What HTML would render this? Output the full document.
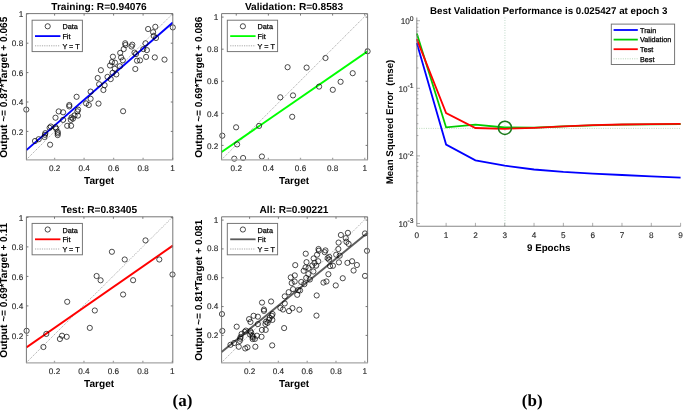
<!DOCTYPE html>
<html lang="en">
<head>
<meta charset="utf-8">
<title>Regression and validation performance</title>
<style>
html,body{margin:0;padding:0;background:#fff;}
body{width:685px;height:411px;overflow:hidden;}
svg{display:block;}
text{font-family:'Liberation Sans', sans-serif;text-rendering:geometricPrecision;}
.tk{font-size:8.2px;fill:#262626;stroke:#262626;stroke-width:0.12px;}
.lg{font-size:7.25px;fill:#000;stroke:#000;stroke-width:0.25px;}
.tl{font-size:10.15px;font-weight:bold;fill:#000;}
.yl{font-size:10.12px;}
.tr{font-size:9.75px;font-weight:bold;fill:#000;}
.cap{font-family:'Liberation Serif', serif;font-size:17px;font-weight:bold;fill:#000;}
</style>
</head>
<body>
<svg width="685" height="411" viewBox="0 0 685 411">
<rect width="685" height="411" fill="#fff"/>
<clipPath id="clip1"><rect x="26" y="13.6" width="147.2" height="146"/></clipPath>
<line x1="26.4" y1="159.6" x2="172.8" y2="13.6" stroke="#555" stroke-width="0.5" stroke-dasharray="1.2 1.1"/>
<line x1="26.4" y1="150.12" x2="172.8" y2="22.58" stroke="#0000ff" stroke-width="1.95" clip-path="url(#clip1)"/>
<g fill="none" stroke="#000" stroke-width="0.7"><circle cx="172.8" cy="27.4" r="2.6"/><circle cx="155.3" cy="26.8" r="2.6"/><circle cx="148.1" cy="29" r="2.6"/><circle cx="153.1" cy="32.2" r="2.6"/><circle cx="153.8" cy="36" r="2.6"/><circle cx="156" cy="38" r="2.6"/><circle cx="145.5" cy="43.3" r="2.6"/><circle cx="125.2" cy="43.3" r="2.6"/><circle cx="125.5" cy="45" r="2.6"/><circle cx="132.3" cy="44.7" r="2.6"/><circle cx="131.5" cy="46.5" r="2.6"/><circle cx="123.7" cy="49.1" r="2.6"/><circle cx="120.2" cy="52.9" r="2.6"/><circle cx="143.3" cy="49.1" r="2.6"/><circle cx="146.9" cy="50.1" r="2.6"/><circle cx="134.5" cy="52.6" r="2.6"/><circle cx="136" cy="54.1" r="2.6"/><circle cx="112.9" cy="56.7" r="2.6"/><circle cx="146.1" cy="56.9" r="2.6"/><circle cx="154.8" cy="57.4" r="2.6"/><circle cx="164.5" cy="59.6" r="2.6"/><circle cx="121.1" cy="57.4" r="2.6"/><circle cx="122.8" cy="60.3" r="2.6"/><circle cx="137" cy="60.7" r="2.6"/><circle cx="140" cy="60.4" r="2.6"/><circle cx="111.9" cy="62.1" r="2.6"/><circle cx="115" cy="62.7" r="2.6"/><circle cx="110" cy="65.5" r="2.6"/><circle cx="119.9" cy="66.2" r="2.6"/><circle cx="135.3" cy="69" r="2.6"/><circle cx="114.8" cy="68.8" r="2.6"/><circle cx="100.9" cy="70.2" r="2.6"/><circle cx="112.6" cy="72.8" r="2.6"/><circle cx="116.3" cy="74.4" r="2.6"/><circle cx="107.5" cy="76.9" r="2.6"/><circle cx="97.7" cy="78" r="2.6"/><circle cx="110.7" cy="79.1" r="2.6"/><circle cx="99.1" cy="84.2" r="2.6"/><circle cx="104.6" cy="85.2" r="2.6"/><circle cx="103.4" cy="90" r="2.6"/><circle cx="90.6" cy="91.6" r="2.6"/><circle cx="90.6" cy="98.8" r="2.6"/><circle cx="98.5" cy="103.6" r="2.6"/><circle cx="86.1" cy="103.4" r="2.6"/><circle cx="88.8" cy="105" r="2.6"/><circle cx="123.1" cy="111.2" r="2.6"/><circle cx="26.3" cy="109.6" r="2.6"/><circle cx="76.6" cy="96.8" r="2.6"/><circle cx="69.3" cy="105" r="2.6"/><circle cx="69.3" cy="106.4" r="2.6"/><circle cx="58.7" cy="111.4" r="2.6"/><circle cx="63.1" cy="112.3" r="2.6"/><circle cx="78.1" cy="109.6" r="2.6"/><circle cx="77.4" cy="111.4" r="2.6"/><circle cx="77.9" cy="115.6" r="2.6"/><circle cx="74.5" cy="115.5" r="2.6"/><circle cx="71.5" cy="117.5" r="2.6"/><circle cx="73" cy="118.6" r="2.6"/><circle cx="55.5" cy="117.7" r="2.6"/><circle cx="63.1" cy="119.9" r="2.6"/><circle cx="70.8" cy="119.9" r="2.6"/><circle cx="67.2" cy="125.8" r="2.6"/><circle cx="71.1" cy="125.8" r="2.6"/><circle cx="50.8" cy="126.5" r="2.6"/><circle cx="49.6" cy="127.8" r="2.6"/><circle cx="55.5" cy="127.2" r="2.6"/><circle cx="56.2" cy="128.7" r="2.6"/><circle cx="57.7" cy="131.9" r="2.6"/><circle cx="57.7" cy="133.4" r="2.6"/><circle cx="57.7" cy="135.1" r="2.6"/><circle cx="45.3" cy="133.1" r="2.6"/><circle cx="45" cy="134.8" r="2.6"/><circle cx="44.5" cy="137" r="2.6"/><circle cx="38.7" cy="139.2" r="2.6"/><circle cx="35" cy="141" r="2.6"/><circle cx="50.1" cy="144.7" r="2.6"/></g>
<path d="M25.95 159.9H173.25M54.6 159.9v-2.1M84.1 159.9v-2.1M113.6 159.9v-2.1M143.1 159.9v-2.1M172.6 159.9v-2.1" fill="none" stroke="#a6a6a6" stroke-width="1.3"/>
<path d="M26.4 159.6V13.6H172.8V159.6M54.6 13.6v2M26.4 131.4h2M172.8 131.4h-2M84.1 13.6v2M26.4 102h2M172.8 102h-2M113.6 13.6v2M26.4 72.6h2M172.8 72.6h-2M143.1 13.6v2M26.4 43.2h2M172.8 43.2h-2M172.6 13.6v2M26.4 13.8h2M172.8 13.8h-2" fill="none" stroke="#707070" stroke-width="0.95"/>
<text x="54.6" y="171.1" class="tk" text-anchor="middle">0.2</text>
<text x="23.2" y="134.5" class="tk" text-anchor="end">0.2</text>
<text x="84.1" y="171.1" class="tk" text-anchor="middle">0.4</text>
<text x="23.2" y="105.1" class="tk" text-anchor="end">0.4</text>
<text x="113.6" y="171.1" class="tk" text-anchor="middle">0.6</text>
<text x="23.2" y="75.7" class="tk" text-anchor="end">0.6</text>
<text x="143.1" y="171.1" class="tk" text-anchor="middle">0.8</text>
<text x="23.2" y="46.3" class="tk" text-anchor="end">0.8</text>
<text x="172.6" y="171.1" class="tk" text-anchor="middle">1</text>
<text x="23.2" y="16.9" class="tk" text-anchor="end">1</text>
<text x="99" y="9.6" class="tl" text-anchor="middle">Training: R=0.94076</text>
<text x="99.1" y="184.2" class="tl" text-anchor="middle">Target</text>
<text transform="translate(6.8 87.2) rotate(-90)" class="tl yl" text-anchor="middle">Output ~= 0.87*Target + 0.065</text>
<rect x="32.1" y="20.2" width="50.3" height="31.4" fill="#fff" stroke="#707070" stroke-width="0.95"/>
<circle cx="47.7" cy="26.3" r="2.6" fill="none" stroke="#000" stroke-width="0.7"/>
<line x1="35" y1="36.1" x2="60.4" y2="36.1" stroke="#0000ff" stroke-width="1.8"/>
<line x1="35" y1="45.8" x2="60.4" y2="45.8" stroke="#555" stroke-width="0.5" stroke-dasharray="1.2 1.1"/>
<text x="62.4" y="29.3" class="lg">Data</text>
<text x="62.4" y="38.9" class="lg">Fit</text>
<text x="62.4" y="48.5" class="lg">Y = T</text>
<clipPath id="clip2"><rect x="221.2" y="13.6" width="146.8" height="146"/></clipPath>
<line x1="221.6" y1="159.6" x2="367.6" y2="13.6" stroke="#555" stroke-width="0.5" stroke-dasharray="1.2 1.1"/>
<line x1="221.6" y1="151.95" x2="367.6" y2="51.37" stroke="#00ff00" stroke-width="1.95" clip-path="url(#clip2)"/>
<g fill="none" stroke="#000" stroke-width="0.7"><circle cx="287.6" cy="67.2" r="2.6"/><circle cx="280.3" cy="97.3" r="2.6"/><circle cx="293" cy="95.4" r="2.6"/><circle cx="367.6" cy="51.3" r="2.6"/><circle cx="325.5" cy="58" r="2.6"/><circle cx="306.6" cy="67.6" r="2.6"/><circle cx="352.7" cy="73.2" r="2.6"/><circle cx="340.6" cy="81.8" r="2.6"/><circle cx="319.1" cy="86.6" r="2.6"/><circle cx="332.8" cy="89.8" r="2.6"/><circle cx="292.2" cy="116.8" r="2.6"/><circle cx="236.1" cy="127.3" r="2.6"/><circle cx="259.1" cy="125.9" r="2.6"/><circle cx="222.3" cy="135.7" r="2.6"/><circle cx="237.1" cy="144.4" r="2.6"/><circle cx="234.3" cy="158.7" r="2.6"/><circle cx="243.1" cy="158" r="2.6"/><circle cx="261.9" cy="156.5" r="2.6"/></g>
<path d="M221.15 159.9H368.05M236.25 159.9v-2.1M268.38 159.9v-2.1M300.5 159.9v-2.1M332.62 159.9v-2.1M364.75 159.9v-2.1" fill="none" stroke="#a6a6a6" stroke-width="1.3"/>
<path d="M221.6 159.6V13.6H367.6V159.6M236.25 13.6v2M221.6 145.4h2M367.6 145.4h-2M268.38 13.6v2M221.6 113.33h2M367.6 113.33h-2M300.5 13.6v2M221.6 81.25h2M367.6 81.25h-2M332.62 13.6v2M221.6 49.18h2M367.6 49.18h-2M364.75 13.6v2M221.6 17.1h2M367.6 17.1h-2" fill="none" stroke="#707070" stroke-width="0.95"/>
<text x="236.25" y="171.1" class="tk" text-anchor="middle">0.2</text>
<text x="218.4" y="148.6" class="tk" text-anchor="end">0.2</text>
<text x="268.38" y="171.1" class="tk" text-anchor="middle">0.4</text>
<text x="218.4" y="116.53" class="tk" text-anchor="end">0.4</text>
<text x="300.5" y="171.1" class="tk" text-anchor="middle">0.6</text>
<text x="218.4" y="84.45" class="tk" text-anchor="end">0.6</text>
<text x="332.62" y="171.1" class="tk" text-anchor="middle">0.8</text>
<text x="218.4" y="52.38" class="tk" text-anchor="end">0.8</text>
<text x="364.75" y="171.1" class="tk" text-anchor="middle">1</text>
<text x="218.4" y="20.3" class="tk" text-anchor="end">1</text>
<text x="294" y="9.6" class="tl" text-anchor="middle">Validation: R=0.8583</text>
<text x="294.1" y="184.2" class="tl" text-anchor="middle">Target</text>
<text transform="translate(201.8 87.2) rotate(-90)" class="tl yl" text-anchor="middle">Output ~= 0.69*Target + 0.086</text>
<rect x="227.3" y="20.2" width="50.3" height="31.4" fill="#fff" stroke="#707070" stroke-width="0.95"/>
<circle cx="242.9" cy="26.3" r="2.6" fill="none" stroke="#000" stroke-width="0.7"/>
<line x1="230.2" y1="36.1" x2="255.6" y2="36.1" stroke="#00ff00" stroke-width="1.8"/>
<line x1="230.2" y1="45.8" x2="255.6" y2="45.8" stroke="#555" stroke-width="0.5" stroke-dasharray="1.2 1.1"/>
<text x="257.6" y="29.3" class="lg">Data</text>
<text x="257.6" y="38.9" class="lg">Fit</text>
<text x="257.6" y="48.5" class="lg">Y = T</text>
<clipPath id="clip3"><rect x="26" y="216.8" width="147.2" height="145.7"/></clipPath>
<line x1="26.4" y1="362.5" x2="172.8" y2="216.8" stroke="#555" stroke-width="0.5" stroke-dasharray="1.2 1.1"/>
<line x1="26.4" y1="347.34" x2="172.8" y2="245.65" stroke="#ff0000" stroke-width="1.95" clip-path="url(#clip3)"/>
<g fill="none" stroke="#000" stroke-width="0.7"><circle cx="145.5" cy="240.4" r="2.6"/><circle cx="111.9" cy="251.8" r="2.6"/><circle cx="124.7" cy="259.5" r="2.6"/><circle cx="159.3" cy="259.5" r="2.6"/><circle cx="96.6" cy="276" r="2.6"/><circle cx="100.6" cy="280.3" r="2.6"/><circle cx="67.2" cy="301.8" r="2.6"/><circle cx="94.8" cy="310.5" r="2.6"/><circle cx="172.5" cy="274.5" r="2.6"/><circle cx="133.1" cy="280.2" r="2.6"/><circle cx="123.1" cy="294.5" r="2.6"/><circle cx="89.8" cy="327.9" r="2.6"/><circle cx="26.6" cy="330.8" r="2.6"/><circle cx="46.3" cy="333.9" r="2.6"/><circle cx="62" cy="335.7" r="2.6"/><circle cx="59.9" cy="339" r="2.6"/><circle cx="66.7" cy="336.8" r="2.6"/><circle cx="43.4" cy="347" r="2.6"/></g>
<path d="M25.95 362.8H173.25M54.5 362.8v-2.1M83.95 362.8v-2.1M113.4 362.8v-2.1M142.85 362.8v-2.1M172.3 362.8v-2.1" fill="none" stroke="#a6a6a6" stroke-width="1.3"/>
<path d="M26.4 362.5V216.8H172.8V362.5M54.5 216.8v2M26.4 335.4h2M172.8 335.4h-2M83.95 216.8v2M26.4 305.9h2M172.8 305.9h-2M113.4 216.8v2M26.4 276.4h2M172.8 276.4h-2M142.85 216.8v2M26.4 246.9h2M172.8 246.9h-2M172.3 216.8v2M26.4 217.4h2M172.8 217.4h-2" fill="none" stroke="#707070" stroke-width="0.95"/>
<text x="54.5" y="374" class="tk" text-anchor="middle">0.2</text>
<text x="23.2" y="338.5" class="tk" text-anchor="end">0.2</text>
<text x="83.95" y="374" class="tk" text-anchor="middle">0.4</text>
<text x="23.2" y="309" class="tk" text-anchor="end">0.4</text>
<text x="113.4" y="374" class="tk" text-anchor="middle">0.6</text>
<text x="23.2" y="279.5" class="tk" text-anchor="end">0.6</text>
<text x="142.85" y="374" class="tk" text-anchor="middle">0.8</text>
<text x="23.2" y="250" class="tk" text-anchor="end">0.8</text>
<text x="172.3" y="374" class="tk" text-anchor="middle">1</text>
<text x="23.2" y="220.5" class="tk" text-anchor="end">1</text>
<text x="99" y="212.8" class="tl" text-anchor="middle">Test: R=0.83405</text>
<text x="99.1" y="387.1" class="tl" text-anchor="middle">Target</text>
<text transform="translate(6.8 290.25) rotate(-90)" class="tl yl" text-anchor="middle">Output ~= 0.69*Target + 0.11</text>
<rect x="32.1" y="223.4" width="50.3" height="31.4" fill="#fff" stroke="#707070" stroke-width="0.95"/>
<circle cx="47.7" cy="229.5" r="2.6" fill="none" stroke="#000" stroke-width="0.7"/>
<line x1="35" y1="239.3" x2="60.4" y2="239.3" stroke="#ff0000" stroke-width="1.8"/>
<line x1="35" y1="249" x2="60.4" y2="249" stroke="#555" stroke-width="0.5" stroke-dasharray="1.2 1.1"/>
<text x="62.4" y="232.5" class="lg">Data</text>
<text x="62.4" y="242.1" class="lg">Fit</text>
<text x="62.4" y="251.7" class="lg">Y = T</text>
<clipPath id="clip4"><rect x="221.2" y="216.8" width="146.8" height="145.7"/></clipPath>
<line x1="221.6" y1="362.5" x2="367.6" y2="216.8" stroke="#555" stroke-width="0.5" stroke-dasharray="1.2 1.1"/>
<line x1="221.6" y1="351.9" x2="367.6" y2="232.84" stroke="#5c5c5c" stroke-width="1.95" clip-path="url(#clip4)"/>
<g fill="none" stroke="#000" stroke-width="0.7"><circle cx="365" cy="233.43" r="2.6"/><circle cx="347.91" cy="232.85" r="2.6"/><circle cx="340.88" cy="235" r="2.6"/><circle cx="345.76" cy="238.14" r="2.6"/><circle cx="346.45" cy="241.87" r="2.6"/><circle cx="348.59" cy="243.83" r="2.6"/><circle cx="338.34" cy="249.02" r="2.6"/><circle cx="318.52" cy="249.02" r="2.6"/><circle cx="318.82" cy="250.69" r="2.6"/><circle cx="325.46" cy="250.4" r="2.6"/><circle cx="324.68" cy="252.16" r="2.6"/><circle cx="317.06" cy="254.71" r="2.6"/><circle cx="313.64" cy="258.44" r="2.6"/><circle cx="336.2" cy="254.71" r="2.6"/><circle cx="339.71" cy="255.69" r="2.6"/><circle cx="327.6" cy="258.14" r="2.6"/><circle cx="329.07" cy="259.61" r="2.6"/><circle cx="306.52" cy="262.16" r="2.6"/><circle cx="338.93" cy="262.36" r="2.6"/><circle cx="347.42" cy="262.85" r="2.6"/><circle cx="356.89" cy="265" r="2.6"/><circle cx="314.52" cy="262.85" r="2.6"/><circle cx="316.18" cy="265.69" r="2.6"/><circle cx="330.04" cy="266.08" r="2.6"/><circle cx="332.97" cy="265.79" r="2.6"/><circle cx="305.54" cy="267.46" r="2.6"/><circle cx="308.57" cy="268.04" r="2.6"/><circle cx="303.69" cy="270.79" r="2.6"/><circle cx="313.35" cy="271.48" r="2.6"/><circle cx="328.39" cy="274.22" r="2.6"/><circle cx="308.37" cy="274.02" r="2.6"/><circle cx="294.8" cy="275.4" r="2.6"/><circle cx="306.22" cy="277.95" r="2.6"/><circle cx="309.84" cy="279.51" r="2.6"/><circle cx="301.24" cy="281.97" r="2.6"/><circle cx="291.68" cy="283.04" r="2.6"/><circle cx="304.37" cy="284.12" r="2.6"/><circle cx="293.04" cy="289.12" r="2.6"/><circle cx="298.41" cy="290.1" r="2.6"/><circle cx="297.24" cy="294.81" r="2.6"/><circle cx="284.75" cy="296.38" r="2.6"/><circle cx="284.75" cy="303.44" r="2.6"/><circle cx="292.46" cy="308.14" r="2.6"/><circle cx="280.35" cy="307.95" r="2.6"/><circle cx="282.99" cy="309.52" r="2.6"/><circle cx="316.47" cy="315.6" r="2.6"/><circle cx="221.97" cy="314.03" r="2.6"/><circle cx="271.08" cy="301.48" r="2.6"/><circle cx="263.95" cy="309.52" r="2.6"/><circle cx="263.95" cy="310.89" r="2.6"/><circle cx="253.6" cy="315.79" r="2.6"/><circle cx="257.9" cy="316.67" r="2.6"/><circle cx="272.54" cy="314.03" r="2.6"/><circle cx="271.86" cy="315.79" r="2.6"/><circle cx="272.35" cy="319.91" r="2.6"/><circle cx="269.03" cy="319.81" r="2.6"/><circle cx="266.1" cy="321.77" r="2.6"/><circle cx="267.56" cy="322.85" r="2.6"/><circle cx="250.48" cy="321.97" r="2.6"/><circle cx="257.9" cy="324.12" r="2.6"/><circle cx="265.42" cy="324.12" r="2.6"/><circle cx="261.9" cy="329.91" r="2.6"/><circle cx="265.71" cy="329.91" r="2.6"/><circle cx="245.89" cy="330.6" r="2.6"/><circle cx="244.72" cy="331.87" r="2.6"/><circle cx="250.48" cy="331.28" r="2.6"/><circle cx="251.16" cy="332.75" r="2.6"/><circle cx="252.63" cy="335.89" r="2.6"/><circle cx="252.63" cy="337.36" r="2.6"/><circle cx="252.63" cy="339.03" r="2.6"/><circle cx="240.52" cy="337.07" r="2.6"/><circle cx="240.23" cy="338.73" r="2.6"/><circle cx="239.74" cy="340.89" r="2.6"/><circle cx="234.08" cy="343.05" r="2.6"/><circle cx="230.47" cy="344.81" r="2.6"/><circle cx="245.21" cy="348.44" r="2.6"/><circle cx="295.23" cy="265.12" r="2.6"/><circle cx="288.69" cy="292.17" r="2.6"/><circle cx="300.07" cy="290.47" r="2.6"/><circle cx="366.95" cy="250.83" r="2.6"/><circle cx="329.21" cy="256.86" r="2.6"/><circle cx="312.27" cy="265.48" r="2.6"/><circle cx="353.59" cy="270.52" r="2.6"/><circle cx="342.75" cy="278.24" r="2.6"/><circle cx="323.47" cy="282.56" r="2.6"/><circle cx="335.75" cy="285.43" r="2.6"/><circle cx="299.36" cy="309.7" r="2.6"/><circle cx="249.06" cy="319.13" r="2.6"/><circle cx="269.68" cy="317.88" r="2.6"/><circle cx="236.69" cy="326.68" r="2.6"/><circle cx="249.96" cy="334.5" r="2.6"/><circle cx="247.45" cy="347.35" r="2.6"/><circle cx="255.34" cy="346.72" r="2.6"/><circle cx="272.19" cy="345.38" r="2.6"/><circle cx="338.59" cy="242.57" r="2.6"/><circle cx="305.73" cy="253.71" r="2.6"/><circle cx="318.25" cy="261.24" r="2.6"/><circle cx="352.09" cy="261.24" r="2.6"/><circle cx="290.77" cy="277.36" r="2.6"/><circle cx="294.68" cy="281.56" r="2.6"/><circle cx="262.02" cy="302.57" r="2.6"/><circle cx="289.01" cy="311.07" r="2.6"/><circle cx="365" cy="275.89" r="2.6"/><circle cx="326.47" cy="281.46" r="2.6"/><circle cx="316.69" cy="295.44" r="2.6"/><circle cx="284.12" cy="328.07" r="2.6"/><circle cx="222.32" cy="330.91" r="2.6"/><circle cx="241.58" cy="333.93" r="2.6"/><circle cx="256.93" cy="335.69" r="2.6"/><circle cx="254.88" cy="338.92" r="2.6"/><circle cx="261.53" cy="336.77" r="2.6"/><circle cx="238.74" cy="346.73" r="2.6"/></g>
<path d="M221.15 362.8H368.05M249.6 362.8v-2.1M278.4 362.8v-2.1M307.2 362.8v-2.1M336 362.8v-2.1M364.8 362.8v-2.1" fill="none" stroke="#a6a6a6" stroke-width="1.3"/>
<path d="M221.6 362.5V216.8H367.6V362.5M249.6 216.8v2M221.6 335.4h2M367.6 335.4h-2M278.4 216.8v2M221.6 306.57h2M367.6 306.57h-2M307.2 216.8v2M221.6 277.75h2M367.6 277.75h-2M336 216.8v2M221.6 248.92h2M367.6 248.92h-2M364.8 216.8v2M221.6 220.1h2M367.6 220.1h-2" fill="none" stroke="#707070" stroke-width="0.95"/>
<text x="249.6" y="374" class="tk" text-anchor="middle">0.2</text>
<text x="218.4" y="337.9" class="tk" text-anchor="end">0.2</text>
<text x="278.4" y="374" class="tk" text-anchor="middle">0.4</text>
<text x="218.4" y="309.07" class="tk" text-anchor="end">0.4</text>
<text x="307.2" y="374" class="tk" text-anchor="middle">0.6</text>
<text x="218.4" y="280.25" class="tk" text-anchor="end">0.6</text>
<text x="336" y="374" class="tk" text-anchor="middle">0.8</text>
<text x="218.4" y="251.42" class="tk" text-anchor="end">0.8</text>
<text x="364.8" y="374" class="tk" text-anchor="middle">1</text>
<text x="218.4" y="222.6" class="tk" text-anchor="end">1</text>
<text x="294" y="212.8" class="tl" text-anchor="middle">All: R=0.90221</text>
<text x="294.1" y="387.1" class="tl" text-anchor="middle">Target</text>
<text transform="translate(201.8 290.25) rotate(-90)" class="tl yl" text-anchor="middle">Output ~= 0.81*Target + 0.081</text>
<rect x="227.3" y="223.4" width="50.3" height="31.4" fill="#fff" stroke="#707070" stroke-width="0.95"/>
<circle cx="242.9" cy="229.5" r="2.6" fill="none" stroke="#000" stroke-width="0.7"/>
<line x1="230.2" y1="239.3" x2="255.6" y2="239.3" stroke="#5c5c5c" stroke-width="1.8"/>
<line x1="230.2" y1="249" x2="255.6" y2="249" stroke="#555" stroke-width="0.5" stroke-dasharray="1.2 1.1"/>
<text x="257.6" y="232.5" class="lg">Data</text>
<text x="257.6" y="242.1" class="lg">Fit</text>
<text x="257.6" y="251.7" class="lg">Y = T</text>
<line x1="416.8" y1="128.4" x2="680.6" y2="128.4" stroke="#86bd86" stroke-width="0.55" stroke-dasharray="1 1.3"/>
<line x1="504.93" y1="17.5" x2="504.93" y2="226.25" stroke="#a3c9b0" stroke-width="0.7" stroke-dasharray="1 1.5"/>
<polyline points="416.8,43 446.11,144.6 475.42,160.4 504.73,165.7 534.04,169.5 563.36,171.9 592.67,173.6 621.98,175 651.29,176.3 680.6,177.6" fill="none" stroke="#0000ff" stroke-width="1.8" stroke-linejoin="miter"/>
<polyline points="416.8,33.6 446.11,127.4 475.42,124.7 504.73,127.5 534.04,127.6 563.36,126.4 592.67,125.3 621.98,124.7 651.29,124.4 680.6,124.2" fill="none" stroke="#00cc00" stroke-width="1.8" stroke-linejoin="miter"/>
<polyline points="416.8,39.1 446.11,113.1 475.42,128 504.73,128.8 534.04,127.9 563.36,126.4 592.67,125.2 621.98,124.5 651.29,124.1 680.6,123.8" fill="none" stroke="#ff0000" stroke-width="1.8" stroke-linejoin="miter"/>
<circle cx="504.93" cy="127.8" r="6.6" fill="none" stroke="#1a7a1a" stroke-width="1.5"/>
<path d="M446.11 226.25v-3.4M475.42 226.25v-3.4M504.73 226.25v-3.4M534.04 226.25v-3.4M563.36 226.25v-3.4M592.67 226.25v-3.4M621.98 226.25v-3.4M651.29 226.25v-3.4M680.6 226.25v-3.4M416.8 20.7h3.2M416.8 67.95h1.6M416.8 56.05h1.6M416.8 47.6h1.6M416.8 41.05h1.6M416.8 35.7h1.6M416.8 31.17h1.6M416.8 27.25h1.6M416.8 23.79h1.6M416.8 88.3h3.2M416.8 135.55h1.6M416.8 123.65h1.6M416.8 115.2h1.6M416.8 108.65h1.6M416.8 103.3h1.6M416.8 98.77h1.6M416.8 94.85h1.6M416.8 91.39h1.6M416.8 155.9h3.2M416.8 203.15h1.6M416.8 191.25h1.6M416.8 182.8h1.6M416.8 176.25h1.6M416.8 170.9h1.6M416.8 166.37h1.6M416.8 162.45h1.6M416.8 158.99h1.6M416.8 223.5h3.2" fill="none" stroke="#8a8a8a" stroke-width="0.7"/>
<path d="M416.8 17.5V226.25H680.6" fill="none" stroke="#7a7a7a" stroke-width="0.9"/>
<text x="416.8" y="237.75" class="tk" text-anchor="middle">0</text>
<text x="446.11" y="237.75" class="tk" text-anchor="middle">1</text>
<text x="475.42" y="237.75" class="tk" text-anchor="middle">2</text>
<text x="504.73" y="237.75" class="tk" text-anchor="middle">3</text>
<text x="534.04" y="237.75" class="tk" text-anchor="middle">4</text>
<text x="563.36" y="237.75" class="tk" text-anchor="middle">5</text>
<text x="592.67" y="237.75" class="tk" text-anchor="middle">6</text>
<text x="621.98" y="237.75" class="tk" text-anchor="middle">7</text>
<text x="651.29" y="237.75" class="tk" text-anchor="middle">8</text>
<text x="680.6" y="237.75" class="tk" text-anchor="middle">9</text>
<text x="413.6" y="24.2" class="tk" text-anchor="end">10<tspan dy="-3.7" font-size="6.8">0</tspan></text>
<text x="413.6" y="91.8" class="tk" text-anchor="end">10<tspan dy="-3.7" font-size="6.8">-1</tspan></text>
<text x="413.6" y="159.4" class="tk" text-anchor="end">10<tspan dy="-3.7" font-size="6.8">-2</tspan></text>
<text x="413.6" y="227" class="tk" text-anchor="end">10<tspan dy="-3.7" font-size="6.8">-3</tspan></text>
<text x="548.7" y="13.9" class="tr" text-anchor="middle">Best Validation Performance is 0.025427 at epoch 3</text>
<text x="548.7" y="250.8" class="tr" text-anchor="middle">9 Epochs</text>
<text transform="translate(393 122) rotate(-90)" class="tr" text-anchor="middle" style="white-space:pre">Mean Squared Error  (mse)</text>
<rect x="611.3" y="24.1" width="63.3" height="40.4" fill="#fff" stroke="#707070" stroke-width="0.95"/>
<line x1="613.6" y1="30" x2="637.8" y2="30" stroke="#0000ff" stroke-width="1.8"/>
<text x="640" y="32.8" class="lg">Train</text>
<line x1="613.6" y1="39.6" x2="637.8" y2="39.6" stroke="#00cc00" stroke-width="1.8"/>
<text x="640" y="42.4" class="lg">Validation</text>
<line x1="613.6" y1="49.2" x2="637.8" y2="49.2" stroke="#ff0000" stroke-width="1.8"/>
<text x="640" y="52" class="lg">Test</text>
<line x1="613.6" y1="58.8" x2="637.8" y2="58.8" stroke="#7fb57f" stroke-width="0.55" stroke-dasharray="1 1.3"/>
<text x="640" y="61.6" class="lg">Best</text>
<text x="182.5" y="405.9" class="cap" text-anchor="middle">(a)</text>
<text x="532.2" y="405.9" class="cap" text-anchor="middle">(b)</text>
</svg>
</body>
</html>
